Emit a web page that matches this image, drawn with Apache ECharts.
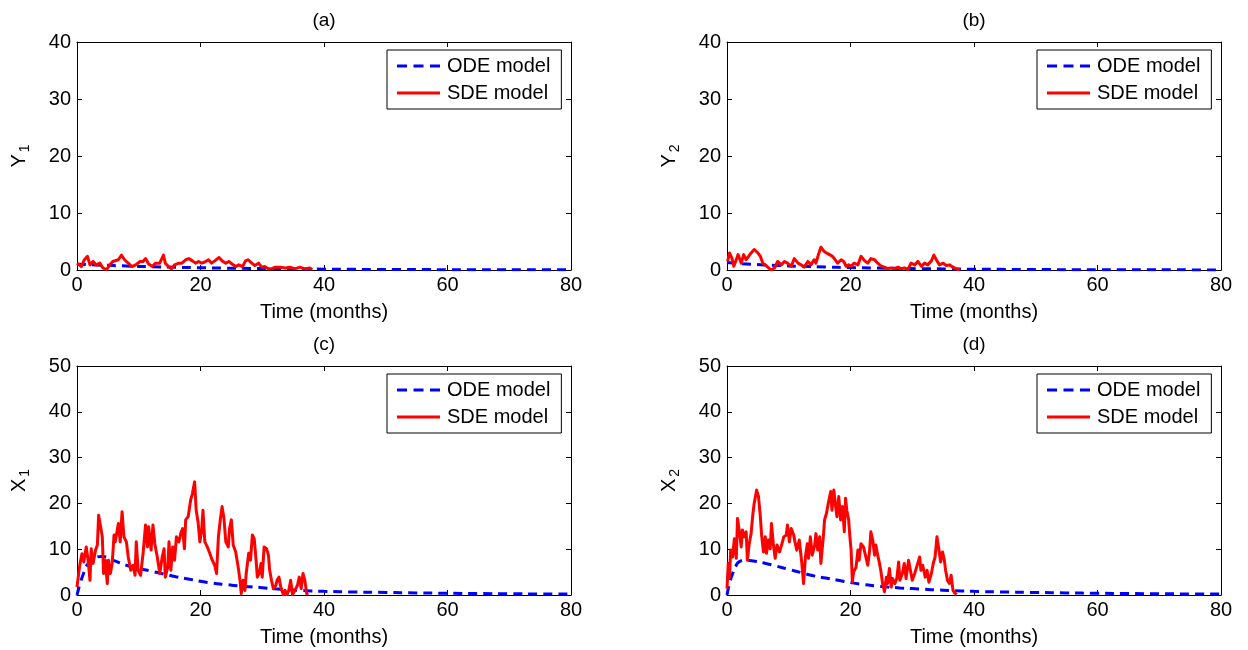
<!DOCTYPE html>
<html>
<head>
<meta charset="utf-8">
<script src="https://cdn.jsdelivr.net/npm/echarts@6/dist/echarts.min.js"></script>
<style>html,body{margin:0;padding:0;background:#fff}#c{width:1248px;height:650px}</style>
</head>
<body>
<div id="c"></div>
<script>
// ---------- DATA ----------
const panelTitles = ['(a)', '(b)', '(c)', '(d)'];
const yNames = [['Y', '1'], ['Y', '2'], ['X', '1'], ['X', '2']];
const xTicks = {min: 0, max: 80, interval: 20};
const yMaxTop = 40, yMaxBottom = 50, yInterval = 10;
const xName = 'Time (months)';
const legendNames = ['ODE model', 'SDE model'];

const odeA = [[0,1.0],[4,0.85],[8,0.7],[12,0.58],[16,0.48],[20,0.4],[24,0.33],[28,0.27],[32,0.22],[36,0.18],[40,0.15],[44,0.12],[48,0.1],[52,0.08],[56,0.07],[60,0.06],[64,0.05],[68,0.04],[72,0.03],[76,0.03],[80,0.02]];
const odeB = [[0,1.3],[4,1.0],[8,0.8],[12,0.65],[16,0.52],[20,0.42],[24,0.34],[28,0.27],[32,0.22],[36,0.18],[40,0.14],[44,0.11],[48,0.09],[52,0.07],[56,0.06],[60,0.05],[64,0.04],[68,0.03],[72,0.03],[76,0.02],[80,0.02]];
const odeC = [[0,0],[0.5,2.5],[1,4.5],[1.5,6.2],[2,7.2],[3,8.2],[4,8.4],[6,7.5],[8,6.5],[10,5.8],[12,5.2],[14,4.6],[16,4.0],[18,3.5],[20,3.0],[22,2.6],[24,2.3],[26,2.0],[28,1.8],[30,1.6],[32,1.35],[34,1.15],[36,1.0],[38,0.9],[40,0.8],[45,0.65],[50,0.55],[55,0.45],[60,0.38],[65,0.32],[70,0.27],[75,0.23],[80,0.2]];
const odeD = [[0,0],[0.5,3.0],[1,5.0],[1.5,6.5],[2,7.3],[3,7.6],[4,7.5],[6,7.0],[8,6.3],[10,5.6],[12,4.9],[14,4.2],[16,3.7],[18,3.2],[20,2.7],[22,2.3],[24,2.0],[26,1.75],[28,1.55],[30,1.4],[32,1.25],[34,1.1],[36,1.0],[38,0.9],[40,0.8],[45,0.65],[50,0.55],[55,0.45],[60,0.38],[65,0.32],[70,0.27],[75,0.23],[80,0.2]];

const sdeA = [[0,1.2],[0.7,0.6],[1.2,1.8],[1.7,2.4],[2.1,0.9],[2.6,1.5],[3.1,0.9],[3.7,1.2],[4.2,0.35],[4.8,0.05],[5.3,0.9],[5.8,1.5],[6.7,1.8],[7.2,2.6],[7.7,1.8],[8.3,1.2],[8.9,0.6],[9.5,0.9],[10.2,1.5],[10.7,1.5],[11.1,2.0],[11.6,1.05],[12.2,0.6],[12.7,1.2],[13.4,1.2],[14.0,2.6],[14.3,1.2],[14.8,0.6],[15.3,0.2],[15.8,0.9],[16.5,1.2],[17.0,1.2],[17.6,1.8],[18.1,2.0],[18.7,1.6],[19.2,1.2],[19.7,1.5],[20.2,1.2],[20.7,1.4],[21.3,1.8],[21.8,1.2],[22.3,1.6],[23.0,2.2],[23.5,1.6],[24.1,1.2],[24.6,1.5],[25.1,1.05],[25.7,0.6],[26.2,0.9],[26.8,0.6],[27.3,1.6],[27.7,1.8],[28.3,1.2],[28.8,0.8],[29.4,1.2],[29.9,0.5],[30.4,0.6],[31.0,0.2],[31.5,0.2],[32.1,0.5],[32.9,0.5],[33.7,0.35],[34.5,0.5],[35.3,0.2],[36.1,0.5],[36.9,0.2],[37.7,0.35],[38.1,0.1]];
const sdeB = [[0.1,1.5],[0.4,3.0],[0.8,2.1],[1.1,0.65],[1.5,1.8],[1.8,2.7],[2.3,1.2],[2.7,2.7],[3.1,1.8],[3.5,2.4],[3.9,3.0],[4.4,3.6],[5.0,3.0],[5.4,2.4],[5.8,1.2],[6.2,0.9],[6.6,0.5],[7.1,0],[7.7,0.35],[8.2,1.5],[8.8,0.9],[9.3,1.5],[9.8,1.2],[10.4,0.65],[10.9,2.0],[11.5,1.2],[12.0,0.9],[12.5,0.5],[13.1,1.5],[13.6,0.9],[14.1,1.8],[14.4,1.2],[14.8,2.7],[15.2,4.0],[15.7,3.3],[16.1,3.0],[16.6,2.7],[17.1,2.4],[17.5,1.8],[17.9,1.2],[18.5,1.8],[18.9,1.5],[19.3,0.65],[19.7,0.9],[20.1,0.65],[20.6,1.2],[21.2,0.9],[21.7,2.4],[22.3,1.6],[22.8,1.2],[23.3,2.0],[23.9,1.8],[24.4,1.2],[25.0,0.65],[25.5,0.5],[26.0,0.25],[26.6,0.35],[27.1,0.25],[27.7,0.5],[28.2,0.2],[28.7,0.35],[29.3,0.1],[29.8,1.2],[30.4,0.9],[30.9,1.5],[31.5,0.65],[32.0,1.2],[32.5,0.9],[33.1,1.6],[33.5,2.6],[33.9,1.8],[34.4,0.9],[35.0,1.2],[35.5,0.8],[36.0,0.9],[36.6,0.5],[37.1,0.25],[37.7,0]];
const sdeC = [[0,1.75],[0.4,6.1],[0.8,9.0],[1.1,7.2],[1.5,10.5],[1.8,7.6],[2.1,3.2],[2.3,10.1],[2.6,6.9],[3.0,9.8],[3.3,10.9],[3.5,17.4],[3.8,17.8],[4.1,12.7],[4.3,4.7],[4.6,7.6],[4.9,2.5],[5.1,7.6],[5.4,4.7],[5.7,6.9],[6.0,13.1],[6.2,11.6],[6.7,15.6],[7.0,11.6],[7.3,18.2],[7.6,12.7],[8.0,11.6],[8.3,8.3],[8.7,5.4],[9.1,6.5],[9.4,4.3],[9.6,11.6],[9.9,5.4],[10.3,4.3],[10.7,9.1],[11.1,15.3],[11.4,10.5],[11.6,14.9],[12.0,9.8],[12.3,15.3],[12.6,11.2],[13.0,8.3],[13.4,4.7],[13.8,8.3],[14.1,10.1],[14.3,3.9],[14.7,6.1],[14.9,11.6],[15.2,5.4],[15.5,10.5],[15.8,7.6],[16.1,12.7],[16.5,11.6],[16.8,13.4],[17.1,14.5],[17.4,10.1],[17.6,16.4],[18.0,17.1],[18.4,20.7],[18.7,22.2],[19.05,24.7],[19.3,18.5],[19.6,16.0],[19.9,11.6],[20.2,14.2],[20.4,18.5],[20.7,11.6],[21.1,10.5],[21.5,9.1],[21.9,7.6],[22.3,6.5],[22.6,4.7],[22.9,12.7],[23.2,16.4],[23.5,19.3],[23.8,16.7],[24.1,11.6],[24.5,10.5],[24.7,14.5],[25.0,16.4],[25.3,10.9],[25.7,9.4],[26.1,6.1],[26.4,3.2],[26.6,0.3],[26.9,3.2],[27.2,1.0],[27.4,4.7],[27.8,9.1],[28.1,7.6],[28.4,13.1],[28.7,12.3],[29.0,7.6],[29.2,3.9],[29.5,4.7],[29.8,6.9],[30.0,3.9],[30.3,10.5],[30.7,10.1],[31.0,8.7],[31.2,5.4],[31.5,3.2],[31.8,1.4],[32.2,2.1],[32.4,3.2],[32.7,3.9],[33.0,1.75],[33.4,0.1],[33.7,1.0],[34.0,0.1],[34.3,1.0],[34.6,3.2],[34.9,0.1],[35.3,1.0],[35.7,2.1],[36.0,3.9],[36.3,1.4],[36.6,4.7],[36.9,3.2],[37.2,0.3],[37.4,0]];
const sdeD = [[0,1.4],[0.2,6.9],[0.4,3.9],[0.6,9.8],[0.9,8.3],[1.2,12.3],[1.5,8.0],[1.7,16.7],[2.0,13.8],[2.3,10.5],[2.5,14.2],[2.8,12.7],[3.1,13.8],[3.3,7.6],[3.6,11.2],[3.9,13.4],[4.2,17.8],[4.4,20.0],[4.8,22.9],[5.1,21.5],[5.4,17.1],[5.6,13.1],[5.9,9.4],[6.2,12.7],[6.4,9.1],[6.7,12.0],[7.0,10.1],[7.2,15.6],[7.5,11.2],[7.8,8.0],[8.1,10.9],[8.5,9.4],[8.9,11.2],[9.2,12.7],[9.6,13.1],[9.8,15.3],[10.1,11.6],[10.4,14.5],[10.8,13.1],[11.0,11.6],[11.3,9.8],[11.7,12.0],[12.1,7.2],[12.4,2.5],[12.7,8.3],[13.0,11.2],[13.2,8.0],[13.5,12.7],[13.8,8.7],[14.2,10.9],[14.4,13.4],[14.7,9.8],[15.0,12.7],[15.2,6.9],[15.6,12.7],[15.8,16.4],[16.1,17.8],[16.4,20.0],[16.8,22.6],[17.0,18.5],[17.3,22.9],[17.6,19.3],[17.8,17.1],[18.1,21.5],[18.4,16.4],[18.7,19.3],[19.0,13.8],[19.2,21.1],[19.4,18.5],[19.7,16.4],[19.9,12.7],[20.1,9.8],[20.3,2.8],[20.5,5.0],[20.9,6.1],[21.2,9.8],[21.4,7.6],[21.7,11.2],[22.1,10.5],[22.4,10.9],[22.8,6.5],[23.1,9.8],[23.3,13.8],[23.6,12.0],[23.9,8.7],[24.1,10.9],[24.4,8.7],[24.7,6.9],[24.9,5.4],[25.2,2.5],[25.5,0.7],[25.8,3.9],[26.0,2.5],[26.3,5.8],[26.6,1.75],[26.8,3.6],[27.2,2.5],[27.5,3.6],[27.8,7.2],[28.0,3.2],[28.4,4.7],[28.7,6.9],[29.0,3.6],[29.4,7.6],[29.7,8.0],[30.0,3.2],[30.4,4.7],[30.7,6.1],[31.2,8.3],[31.4,5.4],[31.7,6.5],[32.1,3.9],[32.4,5.4],[32.7,2.8],[33.1,4.7],[33.4,6.9],[33.7,8.3],[34.0,12.7],[34.3,10.1],[34.6,7.2],[34.9,9.4],[35.2,7.6],[35.4,5.4],[35.7,3.2],[36.0,2.5],[36.3,4.3],[36.6,1.0],[36.9,0.4],[37.2,0.1]];

const odeData = [odeA, odeB, odeC, odeD];
const sdeData = [sdeA, sdeB, sdeC, sdeD];

// ---------- LAYOUT ----------
const FONT = '"Liberation Sans", Arial, Helvetica, sans-serif';
const FS = 20;
const grids = [
  {left: 77, top: 42, width: 494, height: 228},
  {left: 727, top: 42, width: 494, height: 228},
  {left: 77, top: 366, width: 494, height: 229},
  {left: 727, top: 366, width: 494, height: 229}
];
const dashIcon = 'path://M0,0H10V3H0Z M16.5,0H26.5V3H16.5Z M33,0H43V3H33Z';
const solidIcon = 'path://M0,0H43V3H0Z';

const option = {
  animation: false,
  backgroundColor: '#fff',
  textStyle: {fontFamily: FONT},
  grid: grids.map(g => Object.assign({containLabel: false}, g)),
  xAxis: [], yAxis: [], series: [], legend: [], graphic: []
};

const lineAx = {lineStyle: {color: '#000', width: 1}};
grids.forEach((g, i) => {
  const yMax = i < 2 ? yMaxTop : yMaxBottom;
  option.xAxis.push({
    type: 'value', gridIndex: i, min: xTicks.min, max: xTicks.max, interval: xTicks.interval,
    position: 'bottom',
    axisLine: Object.assign({show: true, onZero: false}, lineAx),
    axisTick: {show: true, inside: true, length: 5, lineStyle: {color: '#000'}},
    axisLabel: {color: '#000', fontSize: FS, fontFamily: FONT, margin: 5},
    splitLine: {show: false},
    name: xName, nameLocation: 'middle', nameGap: 32,
    nameTextStyle: {color: '#000', fontSize: FS, fontFamily: FONT}
  });
  option.xAxis.push({
    type: 'value', gridIndex: i, min: xTicks.min, max: xTicks.max, interval: xTicks.interval,
    position: 'top',
    axisLine: Object.assign({show: true, onZero: false}, lineAx),
    axisTick: {show: true, inside: true, length: 5, lineStyle: {color: '#000'}},
    axisLabel: {show: false}, splitLine: {show: false}
  });
  option.yAxis.push({
    type: 'value', gridIndex: i, min: 0, max: yMax, interval: yInterval,
    position: 'left',
    axisLine: Object.assign({show: true, onZero: false}, lineAx),
    axisTick: {show: true, inside: true, length: 5, lineStyle: {color: '#000'}},
    axisLabel: {color: '#000', fontSize: FS, fontFamily: FONT, margin: 6},
    splitLine: {show: false},
    name: '{m|' + yNames[i][0] + '}{s|' + yNames[i][1] + '}',
    nameLocation: 'middle', nameGap: 45, nameRotate: 90,
    nameTextStyle: {
      color: '#000', fontFamily: FONT,
      rich: {
        m: {fontSize: FS, fontFamily: FONT, color: '#000'},
        s: {fontSize: 14, fontFamily: FONT, color: '#000', padding: [12, 0, 0, 2]}
      }
    }
  });
  option.yAxis.push({
    type: 'value', gridIndex: i, min: 0, max: yMax, interval: yInterval,
    position: 'right',
    axisLine: Object.assign({show: true, onZero: false}, lineAx),
    axisTick: {show: true, inside: true, length: 5, lineStyle: {color: '#000'}},
    axisLabel: {show: false}, splitLine: {show: false}
  });

  option.series.push({
    name: legendNames[0], type: 'line', xAxisIndex: 2 * i, yAxisIndex: 2 * i,
    data: odeData[i], symbol: 'none', smooth: true, z: 2,
    lineStyle: {color: '#0000ff', width: 3, type: [9, 6]},
    itemStyle: {color: '#0000ff'}
  });
  option.series.push({
    name: legendNames[1], type: 'line', xAxisIndex: 2 * i, yAxisIndex: 2 * i,
    data: sdeData[i], symbol: 'none', z: 3,
    lineStyle: {color: '#ff0000', width: 3, join: 'round'},
    itemStyle: {color: '#ff0000'}
  });

  option.legend.push({
    data: [
      {name: legendNames[0], icon: dashIcon, itemStyle: {color: '#0000ff'}},
      {name: legendNames[1], icon: solidIcon, itemStyle: {color: '#ff0000'}}
    ],
    orient: 'vertical',
    left: g.left + 310, top: g.top + 8,
    padding: [6, 11, 6, 10], itemGap: 7, itemWidth: 43, itemHeight: 3,
    backgroundColor: '#fff', borderColor: '#000', borderWidth: 1,
    textStyle: {color: '#000', fontSize: FS, fontFamily: FONT, padding: [0, 0, 0, 2]},
    selectedMode: false
  });

  option.graphic.push({
    type: 'text', x: g.left + g.width / 2, y: g.top - 21,
    style: {text: panelTitles[i], fill: '#000', font: '19px ' + FONT, textAlign: 'center', textVerticalAlign: 'middle'}
  });
});

const chart = echarts.init(document.getElementById('c'), null, {renderer: 'canvas'});
chart.setOption(option);
</script>
</body>
</html>
